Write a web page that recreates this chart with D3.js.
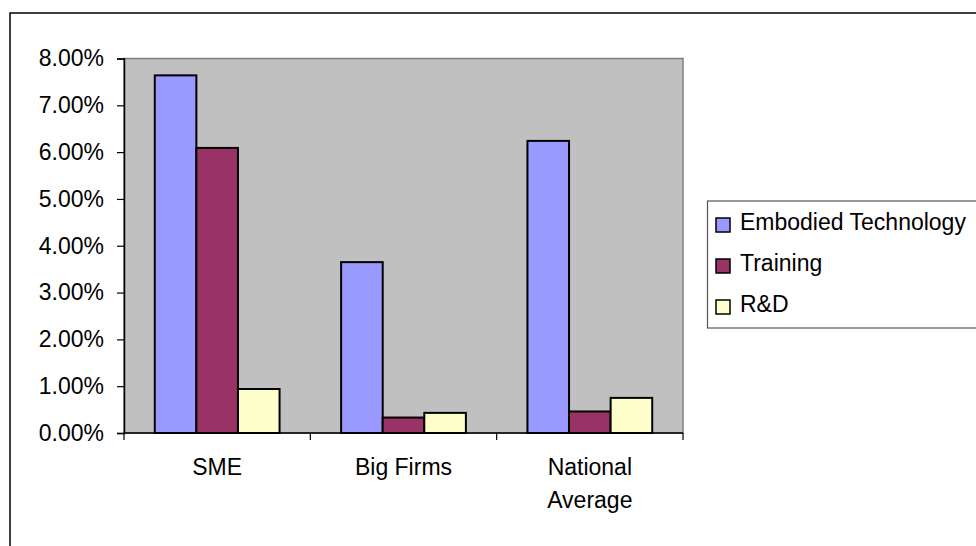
<!DOCTYPE html>
<html>
<head>
<meta charset="utf-8">
<script src="https://cdn.jsdelivr.net/npm/d3@7"></script>
<style>
  html, body { margin: 0; padding: 0; background: #fff; }
  svg { display: block; font-family: "Liberation Sans", Arial, sans-serif; }
</style>
</head>
<body>
<svg id="chart" width="976" height="546"></svg>
<script>
// Categories and series
const categories = ["SME", "Big Firms", "National Average"];
const seriesNames = ["Embodied Technology", "Training", "R&D"];
const seriesColors = ["#9999FF", "#993366", "#FFFFCC"];
// Shares per series, one value per category
const embodiedTech = [0.0764, 0.0365, 0.0624];
const training = [0.0609, 0.0033, 0.0046];
const rnd = [0.0094, 0.0043, 0.0075];
const yTicks = [0, 0.01, 0.02, 0.03, 0.04, 0.05, 0.06, 0.07, 0.08];

const seriesValues = [embodiedTech, training, rnd];
const FONT = 23;

const svg = d3.select("#chart");

// Outer chart frame (runs past the right and bottom edges)
svg.append("rect")
  .attr("x", 10).attr("y", 13)
  .attr("width", 1000).attr("height", 600)
  .attr("fill", "#fff").attr("stroke", "#000").attr("stroke-width", 1.5);

const plot = { left: 124, right: 683, top: 58.5, bottom: 433 };

const x0 = d3.scaleBand().domain(categories).range([plot.left, plot.right]).padding(0);
const x1 = d3.scaleBand().domain(seriesNames).range([0, x0.bandwidth()])
  .paddingInner(0).paddingOuter(0.74);
const y = d3.scaleLinear().domain([0, 0.08]).range([plot.bottom, plot.top]);

// Plot area background
svg.append("rect")
  .attr("x", plot.left).attr("y", plot.top)
  .attr("width", plot.right - plot.left).attr("height", plot.bottom - plot.top)
  .attr("fill", "#C0C0C0").attr("stroke", "#808080").attr("stroke-width", 1.5);

// Bars
const groups = svg.append("g").selectAll("g")
  .data(categories)
  .join("g")
  .attr("transform", d => `translate(${x0(d)},0)`);

groups.selectAll("rect")
  .data((c, ci) => seriesNames.map((s, si) => ({ s, si, v: seriesValues[si][ci] })))
  .join("rect")
  .attr("x", d => x1(d.s))
  .attr("y", d => y(d.v))
  .attr("width", x1.bandwidth())
  .attr("height", d => y(0) - y(d.v))
  .attr("fill", d => seriesColors[d.si])
  .attr("stroke", "#000")
  .attr("stroke-width", 2);

// Y axis
const yAxis = d3.axisLeft(y).tickValues(yTicks).tickFormat(d3.format(".2%"))
  .tickSize(7).tickPadding(13);
const gy = svg.append("g").attr("transform", `translate(${plot.left},0)`).call(yAxis);
gy.select(".domain").attr("stroke", "#000").attr("stroke-width", 1.5);
gy.selectAll(".tick line").attr("stroke", "#000").attr("stroke-width", 1.2);
gy.selectAll(".tick text")
  .attr("font-size", FONT).attr("fill", "#000")
  .attr("font-family", "\"Liberation Sans\", Arial, sans-serif");

// X axis: ticks sit on category boundaries
const gx = svg.append("g").attr("transform", `translate(0,${plot.bottom})`);
gx.append("line")
  .attr("x1", plot.left).attr("x2", plot.right)
  .attr("stroke", "#000").attr("stroke-width", 1.5);
const boundaries = categories.map(c => x0(c)).concat([plot.right]);
gx.selectAll("line.tk")
  .data(boundaries)
  .join("line")
  .attr("class", "tk")
  .attr("x1", d => d).attr("x2", d => d)
  .attr("y1", 0).attr("y2", 7)
  .attr("stroke", "#000").attr("stroke-width", 1.2);

// Category labels (wrapped onto two lines where needed)
const wrap = { "National Average": ["National", "Average"] };
gx.selectAll("text.cat")
  .data(categories)
  .join("text")
  .attr("class", "cat")
  .attr("text-anchor", "middle")
  .attr("font-size", FONT)
  .attr("fill", "#000")
  .each(function (d) {
    const lines = wrap[d] || [d];
    const t = d3.select(this);
    lines.forEach((ln, i) => {
      t.append("tspan")
        .attr("x", x0(d) + x0.bandwidth() / 2)
        .attr("y", 42 + i * 33)
        .text(ln);
    });
  });

// Legend
const legend = svg.append("g");
legend.append("rect")
  .attr("x", 707.5).attr("y", 201)
  .attr("width", 300).attr("height", 127)
  .attr("fill", "#fff").attr("stroke", "#555").attr("stroke-width", 1.2);

const items = legend.selectAll("g.item")
  .data(seriesNames)
  .join("g")
  .attr("class", "item")
  .attr("transform", (d, i) => `translate(716,${218 + i * 41})`);

items.append("rect")
  .attr("width", 14).attr("height", 14)
  .attr("fill", (d, i) => seriesColors[i])
  .attr("stroke", "#000").attr("stroke-width", 1.5);

items.append("text")
  .attr("x", 24).attr("y", 12)
  .attr("font-size", FONT).attr("fill", "#000")
  .text(d => d);
</script>
</body>
</html>
